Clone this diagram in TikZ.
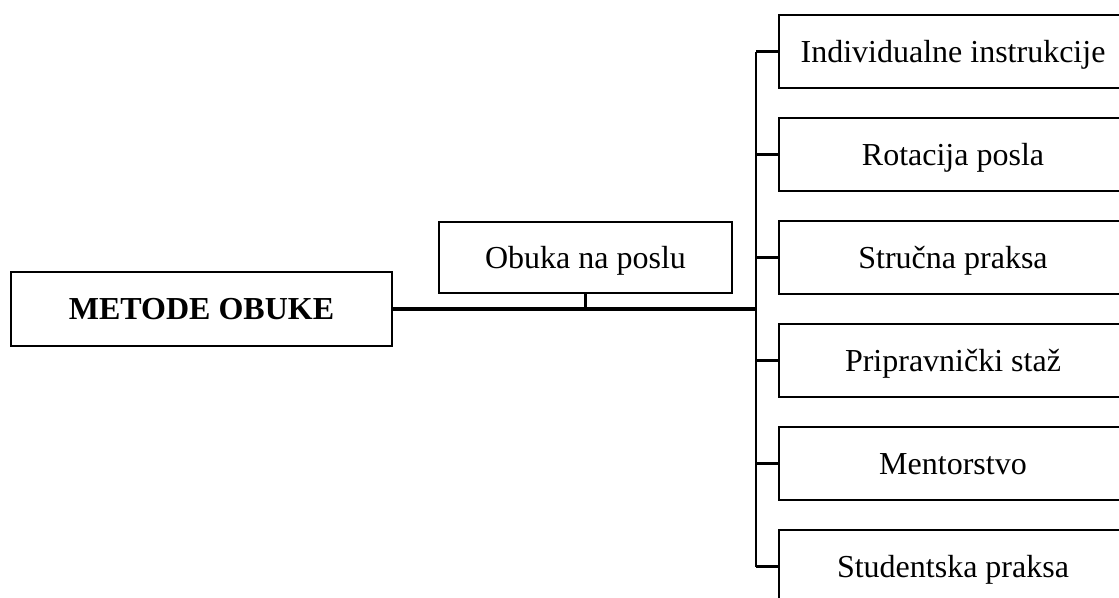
\documentclass[tikz,border=0pt]{standalone}
\usepackage{fontspec}
\setmainfont{Liberation Serif}
\begin{document}
\begin{tikzpicture}[x=1pt,y=-1pt,
  box/.style={draw=black, line width=2.4pt, inner sep=0pt, align=center,
    text height=21pt, text depth=0pt,
    font=\fontsize{32}{38}\selectfont},
  rbox/.style={box, minimum width=348pt, minimum height=73pt},
  conn/.style={line width=2.6pt},
  mainconn/.style={line width=3.6pt}]
\useasboundingbox (0,0) rectangle (1119,597);
\clip (0,0) rectangle (1119,597);
\node[box, minimum width=381pt, minimum height=74pt, font=\fontsize{32}{38}\selectfont\bfseries] (root) at (201.5,309) {METODE OBUKE};
\node[box, minimum width=293pt, minimum height=71pt] (mid) at (585.5,257.5) {Obuka na poslu};
\node[rbox] (b1) at (953,51.5) {Individualne instrukcije};
\node[rbox] (b2) at (953,154.5) {Rotacija posla};
\node[rbox] (b3) at (953,257.5) {Stručna praksa};
\node[rbox] (b4) at (953,360.5) {Pripravnički staž};
\node[rbox] (b5) at (953,463.5) {Mentorstvo};
\node[rbox] (b6) at (953,566.5) {Studentska praksa};
\coordinate (t) at (756,309);
\draw[mainconn] (root.east) -- (t);
\draw[conn] (mid.south) -- (mid.south |- t);
\draw[conn] (b1.west -| t) -- (b6.west -| t);
\foreach \b in {b1,b2,b3,b4,b5,b6}
  \draw[conn] (\b.west -| t) -- (\b.west);
\end{tikzpicture}
\end{document}
